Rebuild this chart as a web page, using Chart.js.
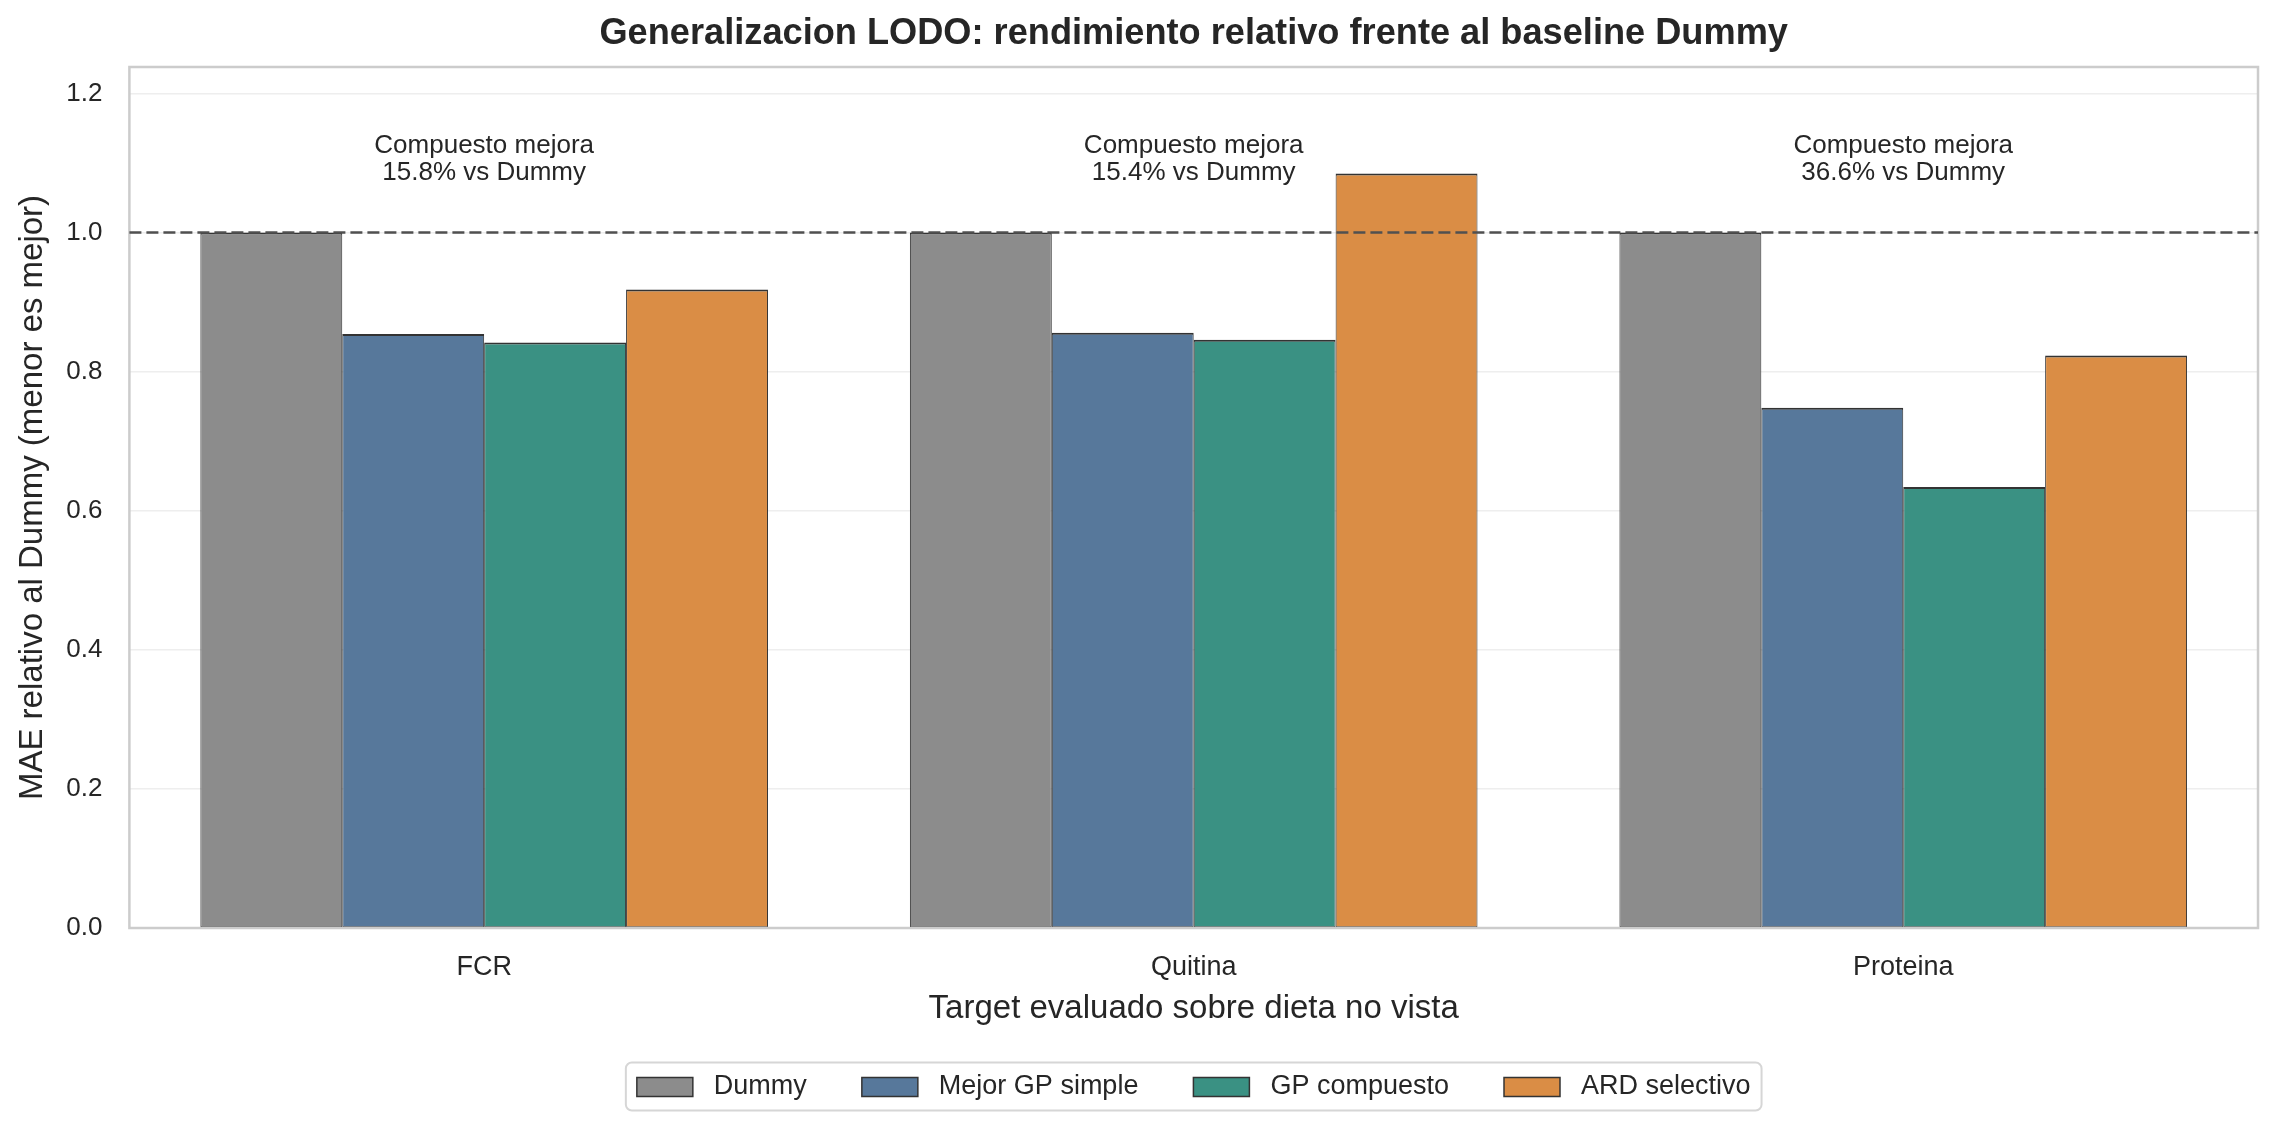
<!DOCTYPE html>
<html>
<head>
<meta charset="utf-8">
<script src="https://cdn.jsdelivr.net/npm/chart.js@4.4.1/dist/chart.umd.min.js"></script>
<style>
  html, body { margin: 0; padding: 0; background: #ffffff; }
  #wrap { width: 2280px; height: 1133px; }
</style>
</head>
<body>
<div id="wrap"><canvas id="graph" width="2280" height="1133"></canvas></div>
<script>
// DATA
const categories = ['FCR', 'Quitina', 'Proteina'];
const seriesNames = ['Dummy', 'Mejor GP simple', 'GP compuesto', 'ARD selectivo'];
const dummy = [1.0, 1.0, 1.0];
const mejorGP = [0.854, 0.856, 0.748];
const gpCompuesto = [0.842, 0.846, 0.634];
const ardSelectivo = [0.918, 1.085, 0.823];
const mejoraPct = [15.8, 15.4, 36.6];
const yTicks = [0, 0.2, 0.4, 0.6, 0.8, 1.0, 1.2];
const baselineValue = 1.0;

const colors = ['#8c8c8c', '#57789b', '#3a9183', '#da8d45'];
const FONT = "'Liberation Sans', Arial, sans-serif";
const TXT = '#262626';
const annoY = 1.075;

Chart.defaults.font.family = FONT;
Chart.defaults.color = TXT;

// title + legend centred on the plot, legend frame, spines, dashed line, notes
const extras = {
    id: 'extras',
    afterLayout(chart) {
        const a = chart.chartArea;
        const mid = (a.left + a.right) / 2;
        [chart.titleBlock, chart.legend].forEach(b => {
            if (!b) return;
            const shift = mid - (b.left + b.right) / 2;
            b.left += shift;
            b.right += shift;
        });
    },
    beforeDraw(chart) {
        const lg = chart.legend;
        if (!lg || !lg.legendHitBoxes.length) return;
        const hb = lg.legendHitBoxes;
        const last = hb[hb.length - 1];
        const l = hb[0].left - 11, r = last.left + last.width + 11;
        const t = lg.top - 1, b = lg.bottom;
        const ctx = chart.ctx;
        ctx.save();
        ctx.fillStyle = '#ffffff';
        ctx.strokeStyle = '#d6d6d6';
        ctx.lineWidth = 2;
        ctx.beginPath();
        ctx.roundRect(l, t, r - l, b - t, 6);
        ctx.fill();
        ctx.stroke();
        ctx.restore();
    },
    afterDatasetsDraw(chart) {
        const {ctx, chartArea: a, scales: {x, y}} = chart;
        ctx.save();
        ctx.strokeStyle = '#cccccc';
        ctx.lineWidth = 2.5;
        ctx.strokeRect(a.left, a.top, a.right - a.left, a.bottom - a.top);

        const yb = y.getPixelForValue(baselineValue);
        ctx.setLineDash([12, 5]);
        ctx.strokeStyle = '#505050';
        ctx.lineWidth = 2.7;
        ctx.beginPath();
        ctx.moveTo(a.left, yb);
        ctx.lineTo(a.right, yb);
        ctx.stroke();
        ctx.setLineDash([]);

        ctx.fillStyle = TXT;
        ctx.font = '26px ' + FONT;
        ctx.textAlign = 'center';
        ctx.textBaseline = 'alphabetic';
        categories.forEach((c, i) => {
            const px = x.getPixelForValue(i);
            const py = y.getPixelForValue(annoY);
            ctx.fillText('Compuesto mejora', px, py - 27);
            ctx.fillText(mejoraPct[i].toFixed(1) + '% vs Dummy', px, py);
        });
        ctx.restore();
    }
};

const seriesData = [dummy, mejorGP, gpCompuesto, ardSelectivo];

let ctx = document.getElementById('graph').getContext('2d');
let graph = new Chart(ctx, {
    type: 'bar',
    data: {
        labels: categories,
        datasets: seriesData.map((d, i) => ({
            label: seriesNames[i],
            data: d,
            backgroundColor: colors[i],
            borderColor: '#333333',
            borderWidth: {top: 2, right: 1, bottom: 1, left: 1},
            borderSkipped: false,
            categoryPercentage: 0.8,
            barPercentage: 1.0
        }))
    },
    options: {
        responsive: false,
        devicePixelRatio: 1,
        animation: false,
        layout: {padding: {left: 0, right: 22, top: 0, bottom: 22.5}},
        plugins: {
            title: {
                display: true,
                text: 'Generalizacion LODO: rendimiento relativo frente al baseline Dummy',
                color: TXT,
                font: {size: 36.2, weight: 'bold', lineHeight: 1.2},
                padding: {top: 12.5, bottom: 11.06}
            },
            legend: {
                position: 'bottom',
                labels: {
                    boxWidth: 56,
                    boxHeight: 19,
                    padding: 10,
                    color: TXT,
                    font: {size: 27},
                    generateLabels(chart) {
                        const items = Chart.defaults.plugins.legend.labels.generateLabels(chart);
                        items.forEach((it, i) => {
                            it.text = ' ' + it.text + (i < items.length - 1 ? '      ' : '');
                            it.lineWidth = 1.5;
                        });
                        return items;
                    }
                }
            },
            tooltip: {enabled: false}
        },
        scales: {
            x: {
                grid: {display: false, drawTicks: false},
                border: {display: false},
                ticks: {font: {size: 27}, color: TXT, padding: 23},
                title: {
                    display: true,
                    text: 'Target evaluado sobre dieta no vista',
                    color: TXT,
                    font: {size: 33, lineHeight: 1.2},
                    padding: {top: 0, bottom: 34.4}
                },
                afterFit(scale) { scale.height = 135.5; }
            },
            y: {
                min: 0,
                max: 1.238,
                grid: {color: '#eeeeee', lineWidth: 1.5, drawTicks: false},
                border: {display: false},
                ticks: {
                    font: {size: 26},
                    color: TXT,
                    padding: 27,
                    callback: (v) => Number(v).toFixed(1)
                },
                afterBuildTicks(scale) {
                    scale.ticks = yTicks.map(v => ({value: v}));
                },
                title: {
                    display: true,
                    text: 'MAE relativo al Dummy (menor es mejor)',
                    color: TXT,
                    font: {size: 33, lineHeight: 1.2},
                    padding: {top: 13.6, bottom: 0}
                },
                afterFit(scale) { scale.width = 129.4; }
            }
        }
    },
    plugins: [extras]
});
</script>
</body>
</html>
